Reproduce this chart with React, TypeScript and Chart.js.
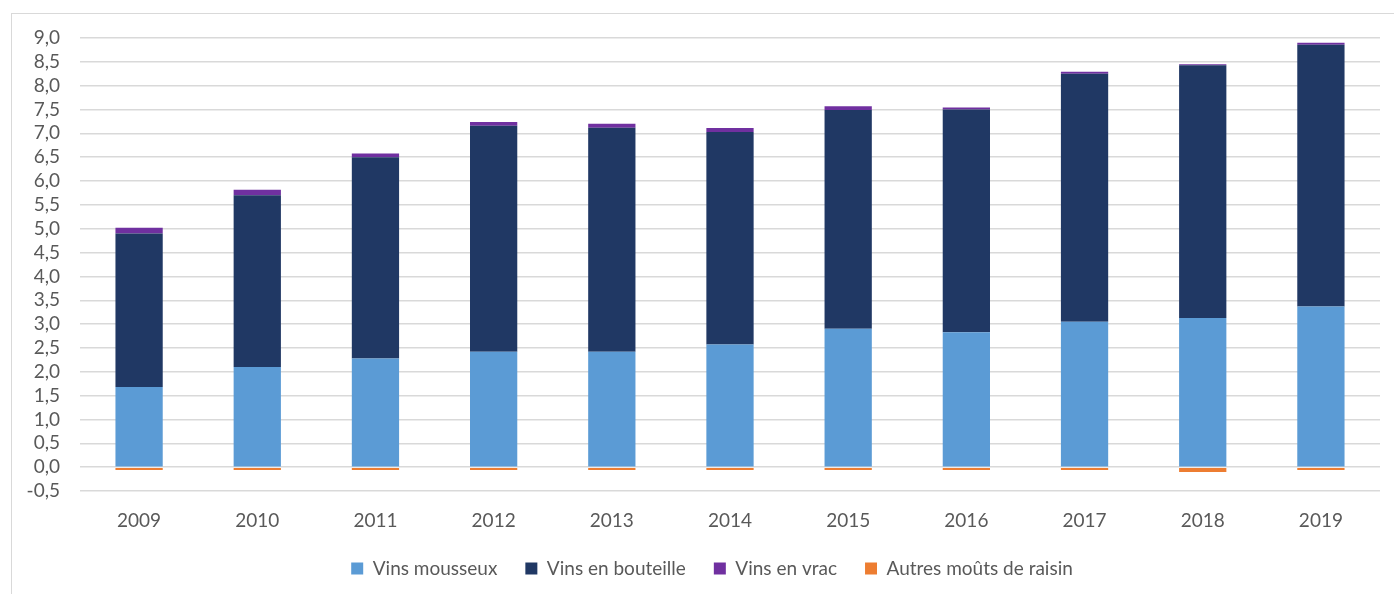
import React, { useEffect, useRef } from "react";
import { Chart, registerables } from "chart.js";

Chart.register(...registerables);

const years = ["2009", "2010", "2011", "2012", "2013", "2014", "2015", "2016", "2017", "2018", "2019"];
const vinsMousseux = [1.68, 2.1, 2.28, 2.42, 2.42, 2.57, 2.9, 2.83, 3.05, 3.13, 3.37];
const vinsBouteille = [3.22, 3.6, 4.22, 4.74, 4.7, 4.46, 4.59, 4.67, 5.2, 5.3, 5.49];
const vinsVrac = [0.12, 0.12, 0.08, 0.08, 0.08, 0.08, 0.08, 0.04, 0.04, 0.02, 0.04];
const autresMouts = [-0.06, -0.06, -0.06, -0.06, -0.06, -0.06, -0.06, -0.06, -0.06, -0.1, -0.06];

const FONT = "Lato, 'Liberation Sans', sans-serif";
const TEXT = "#595959";

const legendShift = {
  id: "legendShift",
  afterLayout(chart: any) {
    const l = chart.legend;
    if (l) {
      l.left += 22;
      l.right += 22;
    }
  },
};

export default function App() {
  const ref = useRef<HTMLCanvasElement | null>(null);
  useEffect(() => {
    if (!ref.current) return;
    const chart = new Chart(ref.current, {
      type: "bar",
      data: {
        labels: years,
        datasets: [
          { label: "Vins mousseux", data: vinsMousseux, backgroundColor: "#5B9BD5" },
          { label: "Vins en bouteille", data: vinsBouteille, backgroundColor: "#203864" },
          { label: "Vins en vrac", data: vinsVrac, backgroundColor: "#7030A0" },
          { label: "Autres moûts de raisin", data: autresMouts, backgroundColor: "#ED7D31" },
        ],
      },
      plugins: [legendShift],
      options: {
        animation: false,
        responsive: false,
        maintainAspectRatio: false,
        datasets: { bar: { categoryPercentage: 1, barPercentage: 0.4 } },
        layout: { padding: { left: 0, right: 14, top: 38, bottom: 6 } },
        plugins: {
          tooltip: { enabled: false },
          legend: {
            position: "bottom",
            labels: {
              boxWidth: 12,
              boxHeight: 12,
              padding: 28,
              color: TEXT,
              font: { family: FONT, size: 19 },
            },
          },
        },
        scales: {
          x: {
            stacked: true,
            grid: { display: false },
            border: { display: false },
            afterFit: (s: any) => {
              s.height = 40;
            },
            ticks: { color: TEXT, font: { family: FONT, size: 19 }, padding: 10 },
          },
          y: {
            stacked: true,
            min: -0.5,
            max: 9,
            grid: { color: "#d9d9d9", lineWidth: 1.5, drawTicks: false },
            border: { display: false },
            afterFit: (s: any) => {
              s.width = 80;
            },
            ticks: {
              stepSize: 0.5,
              autoSkip: false,
              color: TEXT,
              padding: 20,
              font: { family: FONT, size: 19 },
              callback: (v: any) => Number(v).toFixed(1).replace(".", ","),
            },
          },
        },
      },
    });
    return () => chart.destroy();
  }, []);
  return (
    <>
      <div
        style={{
          position: "fixed",
          left: 11,
          top: 13,
          width: 1400,
          height: 600,
          border: "1.5px solid #d9d9d9",
          boxSizing: "border-box",
        }}
      />
      <canvas
        ref={ref}
        width={1394}
        height={594}
        style={{ position: "fixed", left: 0, top: 0, width: 1394, height: 594 }}
      />
    </>
  );
}
